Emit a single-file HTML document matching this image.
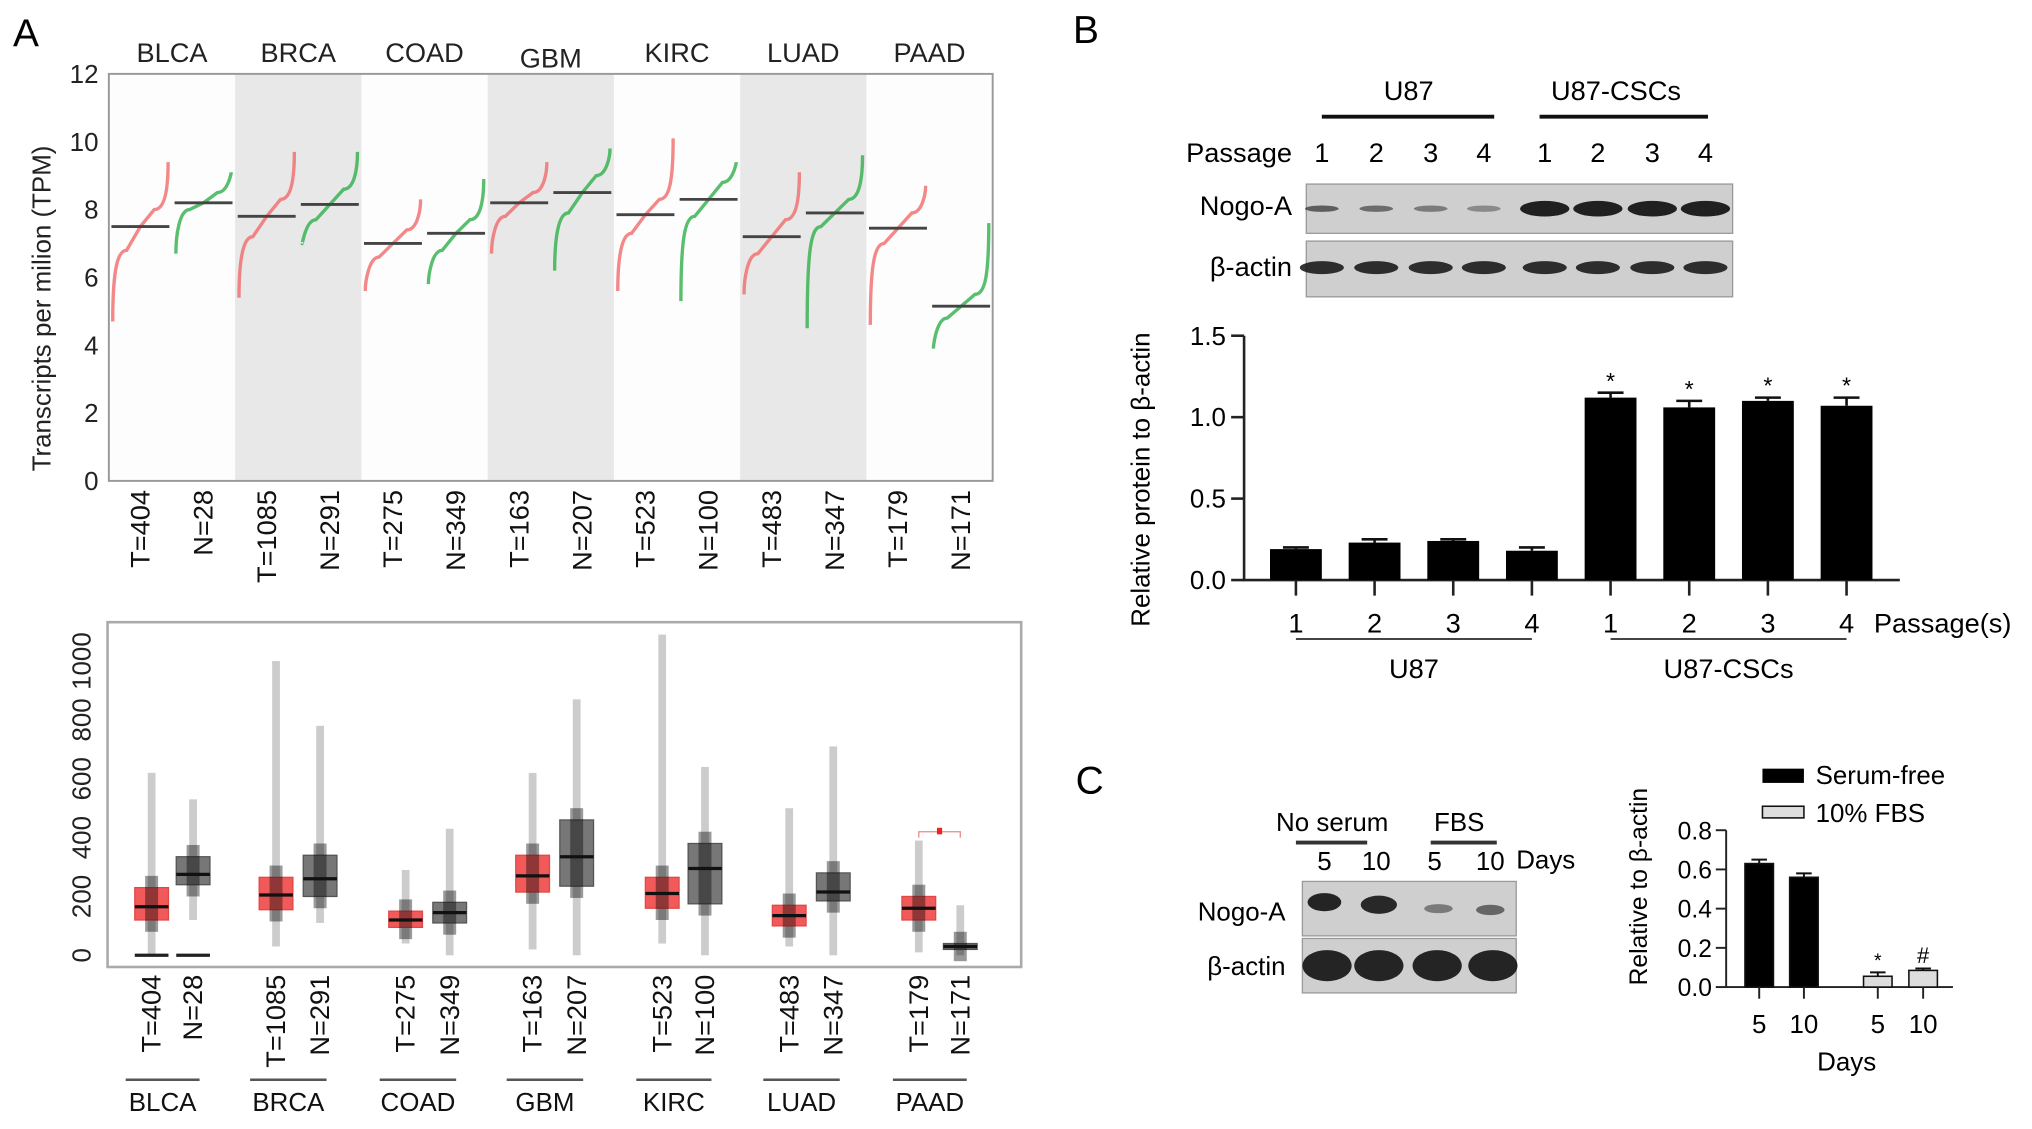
<!DOCTYPE html>
<html><head><meta charset="utf-8">
<style>
html,body{margin:0;padding:0;background:#fff;}
svg{display:block;font-family:"Liberation Sans",Arial,sans-serif;}
</style></head>
<body>
<svg id="fig" width="2032" height="1129" viewBox="0 0 1568 871" preserveAspectRatio="none">
<g id="panelA1"></g>
<g id="panelA2"></g>
<g id="panelB"></g>
<g id="panelC"></g>
</svg>
<script>
// ---------- Panel A data ----------
const cancers = ["BLCA","BRCA","COAD","GBM","KIRC","LUAD","PAAD"];
const sampleLabels = ["T=404","N=28","T=1085","N=291","T=275","N=349","T=163","N=207","T=523","N=100","T=483","N=347","T=179","N=171"];
const tpmMin = [4.7,6.7,5.4,7.0,5.6,5.8,6.7,6.2,5.6,5.3,5.5,4.5,4.6,3.9];
const tpmQ25 = [6.8,8.0,7.2,7.7,6.6,6.8,7.8,7.9,7.3,7.8,6.7,7.5,7.0,4.8];
const tpmMed = [7.5,8.2,7.8,8.15,7.0,7.3,8.2,8.5,7.85,8.3,7.2,7.9,7.45,5.15];
const tpmQ75 = [8.0,8.5,8.3,8.6,7.4,7.7,8.5,9.0,8.3,8.8,7.7,8.3,7.9,5.5];
const tpmMax = [9.4,9.1,9.7,9.7,8.3,8.9,9.4,9.8,10.1,9.4,9.1,9.6,8.7,7.6];
const tpmTicks = [0,2,4,6,8,10,12];

const boxQ1 = [120,240,155,200,95,110,215,235,160,175,100,185,120,20];
const boxMed = [165,275,205,260,120,145,270,335,210,295,135,215,160,30];
const boxQ3 = [230,335,265,340,150,180,340,460,265,380,170,280,200,40];
const boxLo = [0,120,30,110,40,0,20,0,40,0,30,0,10,0];
const boxHi = [620,530,1000,780,290,430,620,870,1090,640,500,710,390,170];
const boxTicks = [0,200,400,600,800,1000];

// ---------- Panel B data ----------
const bCats = ["1","2","3","4","1","2","3","4"];
const bVals = [0.19,0.23,0.24,0.18,1.12,1.06,1.10,1.07];
const bErr = [0.01,0.02,0.01,0.02,0.03,0.04,0.02,0.05];
const bStars = ["","","","","*","*","*","*"];
const bTicks = [0,0.5,1.0,1.5];

// ---------- Panel C data ----------
const cCats = ["5","10","5","10"];
const cVals = [0.63,0.56,0.055,0.085];
const cErr = [0.02,0.02,0.02,0.01];
const cGroup = [0,0,1,1];
const cMarks = ["","","*","#"];
const cTicks = [0,0.2,0.4,0.6,0.8];

const NS="http://www.w3.org/2000/svg";
function el(parent,tag,attrs,text){const e=document.createElementNS(NS,tag);for(const k in attrs)e.setAttribute(k,attrs[k]);if(text!==undefined)e.textContent=text;parent.appendChild(e);return e;}

// ================= Panel A top =================
(function(){
const g=document.getElementById('panelA1');
const L=84,R=766,T=57,B=371;
const y=v=>B-(v/12)*(B-T);
const gw=(R-L)/7;
let t=el(g,'text',{x:10,y:36,'font-size':30});
t.textContent='A';
let r=el(g,'rect',{x:L,y:T,width:R-L,height:B-T,fill:'#fdfdfd'});

cancers.forEach((c,i)=>{
 if(i%2===1){const band=el(g,'rect',{x:L+i*gw,y:T,width:gw,height:B-T,fill:'#e8e8e8'});
  }
 const lab=el(g,'text',{x:L+i*gw+gw/2,y:(c==='GBM'?52:48),'text-anchor':'middle','font-size':21,fill:'#222'},c);
 
});
let fr=el(g,'rect',{x:L,y:T,width:R-L,height:B-T,fill:'none',stroke:'#999','stroke-width':1.5});

tpmTicks.forEach(v=>{
 const tk=el(g,'text',{x:L-8,y:y(v)+7,'text-anchor':'end','font-size':20,fill:'#222'},String(v));
 
});
const yt=el(g,'text',{transform:'translate(39,238) rotate(-90)','text-anchor':'middle','font-size':20,fill:'#222'},'Transcripts per milion (TPM)');

const hw=gw/2;
sampleLabels.forEach((s,i)=>{
 const x0=L+Math.floor(i/2)*gw+(i%2)*hw;
 const col=(i%2===0)?'#f06a6a':'#2fae4a';
 const qs=[tpmMin[i],tpmQ25[i],tpmMed[i],tpmQ75[i],tpmMax[i]];
 const xs=[0,0.25,0.5,0.75,1].map(p=>x0+3+p*(hw-6));
 let d=`M${xs[0]},${y(qs[0])} C${xs[0]},${y(qs[1])+20} ${xs[1]-8},${y(qs[1])} ${xs[1]},${y(qs[1])}`;
 d+=` L${xs[2]},${y(qs[2])} L${xs[3]},${y(qs[3])}`;
 d+=` C${xs[3]+8},${y(qs[3])} ${xs[4]},${y(qs[3])-15} ${xs[4]},${y(qs[4])}`;
 const p=el(g,'path',{d:d,fill:'none',stroke:col,'stroke-width':2.6,'stroke-opacity':0.8});
 
 const m=el(g,'line',{x1:x0+2,x2:x0+hw-2,y1:y(tpmMed[i]),y2:y(tpmMed[i]),stroke:'#444','stroke-width':2.2});
 
 const lb=el(g,'text',{transform:`translate(${x0+hw/2+7},378) rotate(-90)`,'text-anchor':'end','font-size':21,fill:'#111'},s);
 
});
})();

// ================= Panel A bottom =================
(function(){
const g=document.getElementById('panelA2');
const L=83,R=788,T=480,B=746;
const y0=737,y1000=510;
const y=v=>y0-(v/1000)*(y0-y1000);
const centers=[117,149,213,247,313,347,411,445,511,544,609,643,709,741];
let fr=el(g,'rect',{x:L,y:T,width:R-L,height:B-T,fill:'#fff',stroke:'#aaa','stroke-width':2});

boxTicks.forEach(v=>{
 const tk=el(g,'text',{transform:`translate(70,${y(v)}) rotate(-90)`,'text-anchor':'middle','font-size':20,fill:'#222'},String(v));
 
});
sampleLabels.forEach((s,i)=>{
 const cx=centers[i];const tumor=i%2===0;
 const w=el(g,'rect',{x:cx-3,y:y(boxHi[i]),width:6,height:y(boxLo[i])-y(boxHi[i]),fill:'#000','fill-opacity':0.2});
 
 const bx=el(g,'rect',{x:cx-13,y:y(boxQ3[i]),width:26,height:y(boxQ1[i])-y(boxQ3[i]),fill:tumor?'#f25a5a':'#777',stroke:tumor?'#e04848':'#555','stroke-width':1});
 
 const dens=el(g,'rect',{x:cx-5,y:y(boxQ3[i]+40),width:10,height:y(boxQ1[i]-40)-y(boxQ3[i]+40),fill:'#000','fill-opacity':0.4});
 
 const md=el(g,'line',{x1:cx-13,x2:cx+13,y1:y(boxMed[i]),y2:y(boxMed[i]),stroke:'#111','stroke-width':2.5});
 
 const lb=el(g,'text',{transform:`translate(${cx+7},752) rotate(-90)`,'text-anchor':'end','font-size':21,fill:'#111'},s);
 
});
[0,1].forEach(i=>{const z=el(g,'line',{x1:centers[i]-13,x2:centers[i]+13,y1:y(0),y2:y(0),stroke:'#222','stroke-width':2.5});
 });
cancers.forEach((c,k)=>{
 const a=centers[2*k]-20,b=centers[2*k+1]+5;
 const ln=el(g,'line',{x1:a,x2:b,y1:833,y2:833,stroke:'#555','stroke-width':2});
 
 const t=el(g,'text',{x:(a+b)/2,y:857,'text-anchor':'middle','font-size':20,fill:'#111'},c);
 
});
const br=el(g,'path',{d:`M${centers[12]},${y(400)} V${y(420)} H${centers[13]} V${y(400)}`,fill:'none',stroke:'#e88','stroke-width':1});

const st=el(g,'rect',{x:(centers[12]+centers[13])/2-2,y:y(420)-3,width:4,height:5,fill:'#e22'});

})();

function blot(g,x,y,w,h,bands,name){
 const r=el(g,'rect',{x:x,y:y,width:w,height:h,fill:'#cfcfcf',stroke:'#999','stroke-width':1});
 
 bands.forEach(b=>{const e=el(g,'ellipse',{cx:b[0],cy:y+h/2+(b[4]||0),rx:b[1],ry:b[2],fill:'#111','fill-opacity':b[3]});
  });
}

// ================= Panel B =================
(function(){
const g=document.getElementById('panelB');
let t=el(g,'text',{x:828,y:33,'font-size':30});t.textContent='B';
const lane=[1020,1062,1104,1145,1192,1233,1275,1316];
[['U87',1087,1020,1153],['U87-CSCs',1247,1188,1318]].forEach(a=>{
 const tx=el(g,'text',{x:a[1],y:77,'text-anchor':'middle','font-size':21},a[0]);
 const l=el(g,'line',{x1:a[2],x2:a[3],y1:90,y2:90,stroke:'#111','stroke-width':3});
});
let ps=el(g,'text',{x:997,y:125,'text-anchor':'end','font-size':21},'Passage');
lane.forEach((x,i)=>{const n=el(g,'text',{x:x,y:125,'text-anchor':'middle','font-size':21},bCats[i]);});
blot(g,1008,142,329,38,lane.map((x,i)=>i<4?[x,13,2.5,0.6-i*0.08]:[x,19,6,0.92]),'nogo-a-blot');
blot(g,1008,186,329,43,lane.map((x,i)=>[x,17,5,0.85,-1]),'beta-actin-blot');
[['Nogo-A',166],['β-actin',213]].forEach(a=>{const tx=el(g,'text',{x:997,y:a[1],'text-anchor':'end','font-size':21},a[0]);});
const X0=960,X1=1466,Y0=447.5,Y15=259;
const y=v=>Y0-(v/1.5)*(Y0-Y15);
const xc=i=>1000+i*60.7;
const ax=el(g,'path',{d:`M${X0},${Y15} V${Y0} H${X1}`,fill:'none',stroke:'#222','stroke-width':2});
bTicks.forEach(v=>{
 const tk=el(g,'line',{x1:X0-10,x2:X0,y1:y(v),y2:y(v),stroke:'#222','stroke-width':2});
 const tl=el(g,'text',{x:X0-14,y:y(v)+7,'text-anchor':'end','font-size':20},v.toFixed(1));
});
bVals.forEach((v,i)=>{
 const cx=xc(i);
 const e=el(g,'path',{d:`M${cx},${y(v)} V${y(v+bErr[i])} M${cx-10},${y(v+bErr[i])} H${cx+10}`,stroke:'#111','stroke-width':2});
 const b=el(g,'rect',{x:cx-20,y:y(v),width:40,height:Y0-y(v),fill:'#000'});
 if(bStars[i]){const s=el(g,'text',{x:cx,y:y(v+bErr[i])-3,'text-anchor':'middle','font-size':18},bStars[i]);}
 const tk=el(g,'line',{x1:cx,x2:cx,y1:Y0,y2:Y0+12,stroke:'#222','stroke-width':2});
 const tl=el(g,'text',{x:cx,y:488,'text-anchor':'middle','font-size':21},bCats[i]);
});
let pl=el(g,'text',{x:1446,y:488,'font-size':21},'Passage(s)');
[[0,3,'U87'],[4,7,'U87-CSCs']].forEach(a=>{
 const l=el(g,'line',{x1:xc(a[0]),x2:xc(a[1]),y1:493,y2:493,stroke:'#444','stroke-width':1.5});
 const tx=el(g,'text',{x:(xc(a[0])+xc(a[1]))/2,y:523,'text-anchor':'middle','font-size':21},a[2]);
});
const yt=el(g,'text',{transform:'translate(887,370) rotate(-90)','text-anchor':'middle','font-size':20},'Relative protein to β-actin');
})();

// ================= Panel C =================
(function(){
const g=document.getElementById('panelC');
let t=el(g,'text',{x:830,y:612,'font-size':30});t.textContent='C';
[['No serum',1028,1000,1055],['FBS',1126,1104,1155]].forEach(a=>{
 const tx=el(g,'text',{x:a[1],y:641,'text-anchor':'middle','font-size':20},a[0]);
 const l=el(g,'line',{x1:a[2],x2:a[3],y1:650,y2:650,stroke:'#333','stroke-width':3});
});
const lane=[1022,1062,1107,1150];
lane.forEach((x,i)=>{const n=el(g,'text',{x:x,y:671,'text-anchor':'middle','font-size':20},cCats[i]);});
let dy=el(g,'text',{x:1170,y:670,'font-size':20},'Days');
blot(g,1005,680,165,42,[[1022,13,7,0.9,-5],[1064,14,7,0.88,-3],[1110,11,3.5,0.45],[1150,11,4,0.55,1]],'nogo-a-blot-c');
blot(g,1005,724,165,42,lane.map(x=>[x+2,19,12,0.9]),'beta-actin-blot-c');
[['Nogo-A',710],['β-actin',752]].forEach(a=>{const tx=el(g,'text',{x:992,y:a[1],'text-anchor':'end','font-size':20},a[0]);});
const X0=1332,X1=1507,Y0=761.5,Y8=640.5;
const y=v=>Y0-(v/0.8)*(Y0-Y8);
const xs=[1357.5,1392,1449,1484];
const ax=el(g,'path',{d:`M${X0},${Y8} V${Y0} H${X1}`,fill:'none',stroke:'#222','stroke-width':1.5});
cTicks.forEach(v=>{
 const tk=el(g,'line',{x1:X0-8,x2:X0,y1:y(v),y2:y(v),stroke:'#222','stroke-width':1.5});
 const tl=el(g,'text',{x:X0-11,y:y(v)+7,'text-anchor':'end','font-size':19},v.toFixed(1));
});
cVals.forEach((v,i)=>{
 const cx=xs[i];const grey=cGroup[i]===1;
 const e=el(g,'path',{d:`M${cx},${y(v)} V${y(v+cErr[i])} M${cx-6},${y(v+cErr[i])} H${cx+6}`,stroke:'#111','stroke-width':1.5});
 const b=el(g,'rect',{x:cx-11,y:y(v),width:22,height:Y0-y(v),fill:grey?'#ddd':'#000',stroke:'#111','stroke-width':1.2});
 if(cMarks[i]){const s=el(g,'text',{x:cx,y:y(v+cErr[i])-4,'text-anchor':'middle','font-size':cMarks[i]==='#'?17:15},cMarks[i]);}
 const tk=el(g,'line',{x1:cx,x2:cx,y1:Y0,y2:Y0+9,stroke:'#222','stroke-width':1.5});
 const tl=el(g,'text',{x:cx,y:797,'text-anchor':'middle','font-size':20},cCats[i]);
});
let xt=el(g,'text',{x:1425,y:826,'text-anchor':'middle','font-size':20},'Days');
const yt=el(g,'text',{transform:'translate(1271,684) rotate(-90)','text-anchor':'middle','font-size':19},'Relative to β-actin');
const l1=el(g,'rect',{x:1360,y:593,width:32,height:11,fill:'#000'});
const t1=el(g,'text',{x:1401,y:605,'font-size':20},'Serum-free');
const l2=el(g,'rect',{x:1360,y:622,width:32,height:9,fill:'#ddd',stroke:'#111','stroke-width':1.2});
const t2=el(g,'text',{x:1401,y:634,'font-size':20},'10% FBS');
})();
</script>
</body></html>
